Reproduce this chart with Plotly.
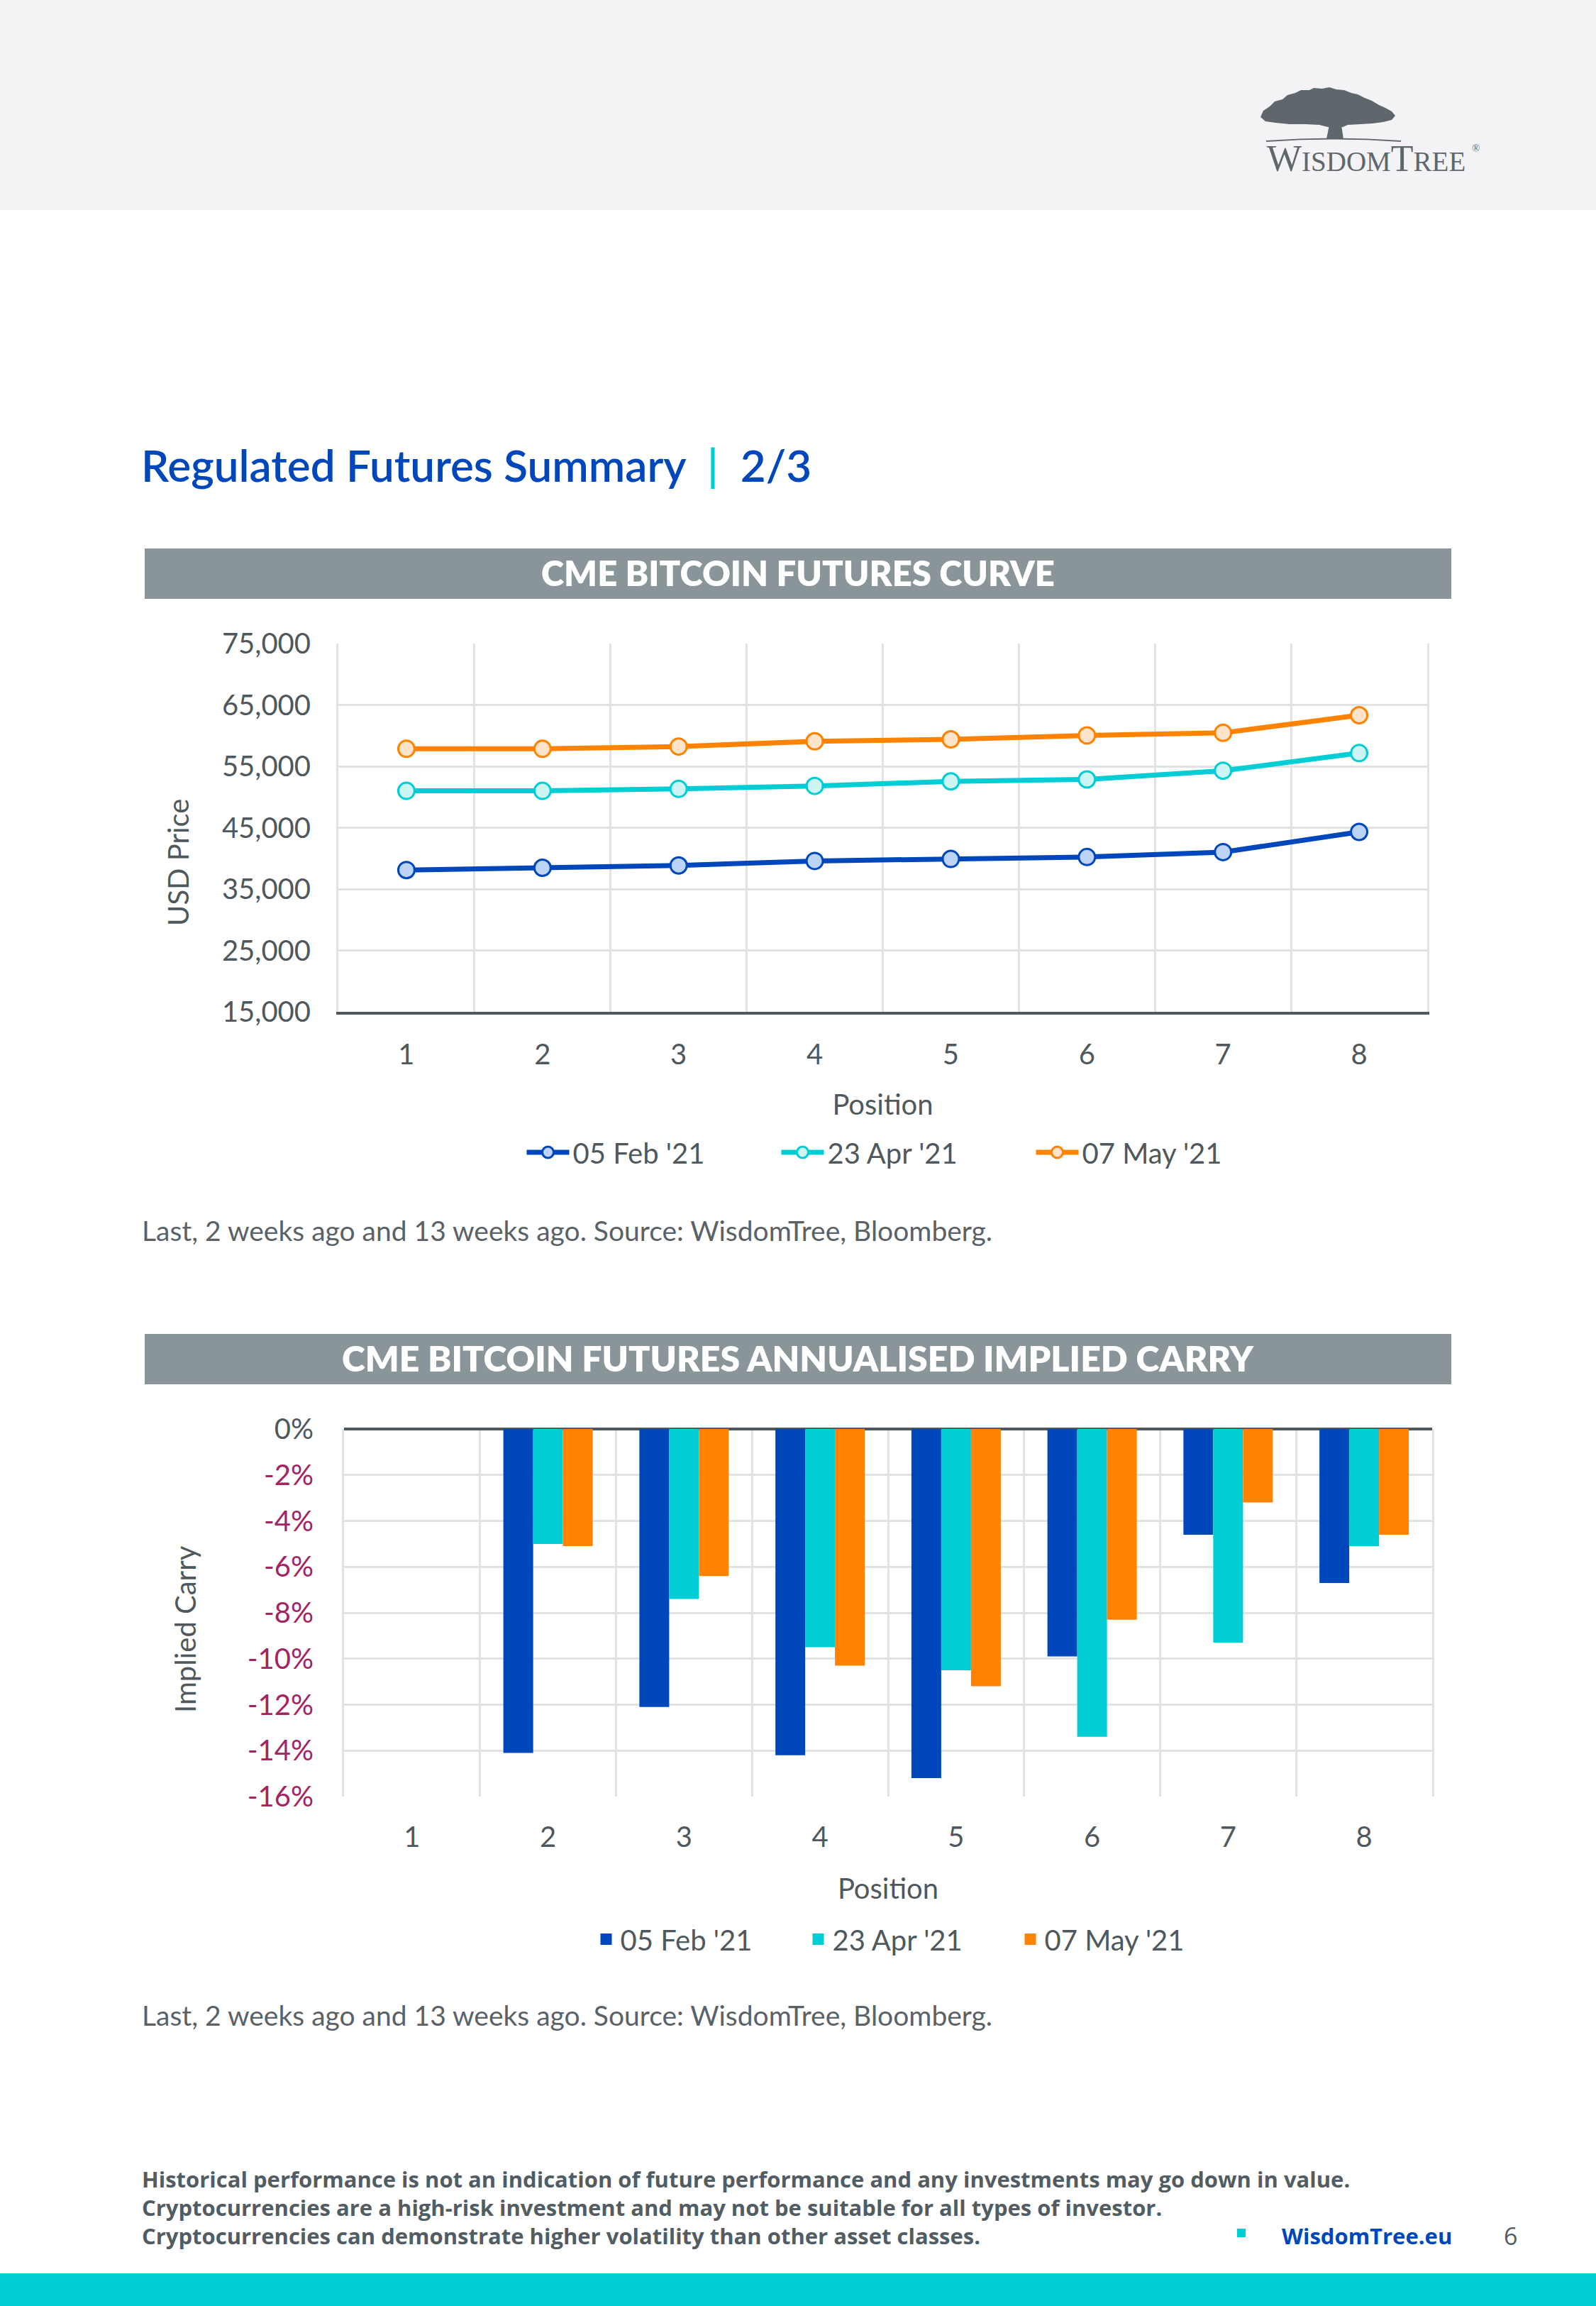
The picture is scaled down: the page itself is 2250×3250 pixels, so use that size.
import plotly.graph_objects as go

W, H = 2250, 3250


def fx(x):
    return x / W


def fy(y):
    return 1 - y / H


# ---------------- data ----------------
positions = [1, 2, 3, 4, 5, 6, 7, 8]
series_names = ["05 Feb '21", "23 Apr '21", "07 May '21"]

curve_feb = [38100, 38470, 38840, 39580, 39900, 40220, 41020, 44310]
curve_apr = [51000, 51000, 51320, 51800, 52540, 52860, 54290, 57160]
curve_may = [57850, 57850, 58220, 59070, 59390, 60030, 60450, 63320]

carry_feb = [None, -14.1, -12.1, -14.2, -15.2, -9.9, -4.6, -6.7]
carry_apr = [None, -5.0, -7.4, -9.5, -10.5, -13.4, -9.3, -5.1]
carry_may = [None, -5.1, -6.4, -10.3, -11.2, -8.3, -3.2, -4.6]

curve_ticks = [15000, 25000, 35000, 45000, 55000, 65000, 75000]
carry_ticks = [0, -2, -4, -6, -8, -10, -12, -14, -16]

# ---------------- style ----------------
BLUE = "#0047bb"
CYAN = "#00cdd4"
ORANGE = "#ff8200"
colors = [BLUE, CYAN, ORANGE]
fills = ["#bcd4f7", "#ccf5f3", "#ffe4cc"]
TXT = "#4f585c"
GRID = "#e0e3e4"
BAND = "#8a959a"
MAGENTA = "#a4245f"
FONT = "Lato"
FS = 40

boundaries = [p - 0.5 for p in positions] + [positions[-1] + 0.5]

fig = go.Figure()

for name, vals, c, f in zip(series_names, [curve_feb, curve_apr, curve_may], colors, fills):
    fig.add_trace(go.Scatter(
        x=positions, y=vals, name=name, mode="lines+markers",
        line=dict(color=c, width=7),
        marker=dict(size=23, color=f, line=dict(color=c, width=3)),
        xaxis="x", yaxis="y", legend="legend",
    ))

for name, vals, c in zip(series_names, [carry_feb, carry_apr, carry_may], colors):
    fig.add_trace(go.Bar(
        x=positions, y=vals, name=name, marker=dict(color=c, line=dict(width=0)),
        xaxis="x2", yaxis="y2", showlegend=False,
    ))
    # legend entry with a larger square swatch
    fig.add_trace(go.Scatter(
        x=[None], y=[None], name=name, mode="markers",
        marker=dict(symbol="square", size=20, color=c, line=dict(width=0)),
        xaxis="x2", yaxis="y2", legend="legend2",
    ))

axis_font = dict(family=FONT, size=FS, color=TXT)


def x_axis(domain, anchor, label_standoff, **extra):
    return dict(
        domain=domain, anchor=anchor,
        range=[0.5, 8.5], tickmode="array", tickvals=positions, ticks="",
        showgrid=False, zeroline=False, tickfont=axis_font,
        minor=dict(tickvals=boundaries, showgrid=True, gridcolor=GRID, gridwidth=3, ticks=""),
        ticklabelstandoff=label_standoff, automargin=False, fixedrange=True,
        title=dict(text="Position", font=dict(family=FONT, size=FS, color=TXT), standoff=36),
        **extra,
    )


fig.update_layout(
    width=W, height=H,
    margin=dict(l=0, r=0, t=0, b=0),
    paper_bgcolor="white", plot_bgcolor="white",
    barmode="group", bargap=0.343, bargroupgap=0,
    hovermode=False,
    xaxis=x_axis([fx(477), fx(2012)], "y", 22, showline=True, linecolor=TXT, linewidth=4),
    yaxis=dict(domain=[fy(1426), fy(907)], anchor="x", range=[15000, 75000],
               tickmode="array", tickvals=curve_ticks, tickformat=",d",
               ticks="", showgrid=True, gridcolor=GRID, gridwidth=3,
               showline=True, linecolor=GRID, linewidth=3, mirror=True,
               zeroline=False, tickfont=axis_font, ticklabelstandoff=28,
               automargin=False, fixedrange=True),
    xaxis2=x_axis([fx(485), fx(2019)], "y2", 30, showline=False),
    yaxis2=dict(domain=[fy(2532), fy(2014)], anchor="x2", range=[-16, 0],
                tickmode="array", tickvals=carry_ticks,
                ticktext=[f"<span style='color:{TXT if v == 0 else MAGENTA}'>{v}%</span>" for v in carry_ticks],
                ticks="", showgrid=True, gridcolor=GRID, gridwidth=3,
                showline=True, linecolor=GRID, linewidth=3, mirror=True,
                zeroline=True, zerolinecolor=TXT, zerolinewidth=4,
                tickfont=axis_font, ticklabelstandoff=32,
                automargin=False, fixedrange=True),
    legend=dict(orientation="h", x=fx(1276), y=fy(1624), xanchor="center", yanchor="middle",
                font=dict(family=FONT, size=FS, color=TXT), itemwidth=60,
                entrywidth=284, bgcolor="rgba(0,0,0,0)"),
    legend2=dict(orientation="h", x=fx(1283), y=fy(2733), xanchor="center", yanchor="middle",
                 font=dict(family=FONT, size=FS, color=TXT), itemwidth=30,
                 entrywidth=254, bgcolor="rgba(0,0,0,0)"),
)

shapes = [
    # header background
    dict(type="rect", xref="paper", yref="paper", x0=0, x1=1, y0=fy(296), y1=fy(0),
         fillcolor="#f3f3f5", line=dict(width=0), layer="below"),
    # chart title bands
    dict(type="rect", xref="paper", yref="paper", x0=fx(204), x1=fx(2046), y0=fy(844), y1=fy(773),
         fillcolor=BAND, line=dict(width=0), layer="below"),
    dict(type="rect", xref="paper", yref="paper", x0=fx(204), x1=fx(2046), y0=fy(1951), y1=fy(1880),
         fillcolor=BAND, line=dict(width=0), layer="below"),
    # bottom band
    dict(type="rect", xref="paper", yref="paper", x0=0, x1=1, y0=fy(3250), y1=fy(3204),
         fillcolor=CYAN, line=dict(width=0), layer="below"),
    # small square in footer
    dict(type="rect", xref="paper", yref="paper", x0=fx(1744), x1=fx(1756), y0=fy(3153), y1=fy(3141),
         fillcolor=CYAN, line=dict(width=0)),
]

# logo tree (canopy, trunk, ground)
LOGO = "#5f676c"
canopy_pts = [(1777, 165), (1781, 156), (1790, 150), (1797, 143), (1808, 140), (1815, 134), (1826, 131),
              (1834, 127), (1846, 127), (1852, 124), (1864, 125), (1874, 123), (1884, 126), (1895, 127),
              (1905, 131), (1914, 133), (1924, 138), (1934, 142), (1944, 148), (1953, 152), (1962, 157),
              (1967, 163), (1962, 169), (1950, 172), (1935, 174), (1918, 175), (1900, 176), (1893, 179),
              (1872, 179), (1860, 176), (1840, 175), (1818, 175), (1798, 173), (1784, 171)]
path = "M " + " L ".join(f"{fx(x)},{fy(y)}" for x, y in canopy_pts) + " Z"
shapes.append(dict(type="path", xref="paper", yref="paper", path=path, fillcolor=LOGO, line=dict(width=0)))
trunk = [(1874, 176), (1891, 176), (1894, 196), (1870, 196)]
shapes.append(dict(type="path", xref="paper", yref="paper",
                   path="M " + " L ".join(f"{fx(x)},{fy(y)}" for x, y in trunk) + " Z",
                   fillcolor=LOGO, line=dict(width=0)))
shapes.append(dict(type="path", xref="paper", yref="paper",
                   path=f"M {fx(1785)},{fy(199)} Q {fx(1880)},{fy(192)} {fx(1975)},{fy(199)}",
                   line=dict(color=LOGO, width=2)))
fig.update_layout(shapes=shapes)

ann = []


def add_text(text, x, y, size, color=TXT, xanchor="left", yanchor="middle", family=FONT, weight="normal", angle=0):
    ann.append(dict(text=text, x=fx(x), y=fy(y), xref="paper", yref="paper", showarrow=False,
                    xanchor=xanchor, yanchor=yanchor, textangle=angle,
                    font=dict(family=family, size=size, color=color, weight=weight)))


add_text(f"Regulated Futures Summary  <span style='color:{CYAN}'>|</span>  2/3", 197, 655, 62,
         color=BLUE, weight=600)
add_text("CME BITCOIN FUTURES CURVE", 1125, 807, 49, color="white", xanchor="center", weight=800)
add_text("CME BITCOIN FUTURES ANNUALISED IMPLIED CARRY", 1125, 1914, 50, color="white",
         xanchor="center", weight=800)
add_text("USD Price", 251, 1216, FS, xanchor="center", angle=-90)
add_text("Implied Carry", 261, 2296, FS, xanchor="center", angle=-90)
src = "Last, 2 weeks ago and 13 weeks ago. Source: WisdomTree, Bloomberg."
add_text(src, 198, 1734, 39, color="#5a6268")
add_text(src, 198, 2840, 39, color="#5a6268")
add_text("Historical performance is not an indication of future performance and any investments may go down in value.",
         198, 3071, 31, color="#525c63", family="Open Sans", weight="bold")
add_text("Cryptocurrencies are a high-risk investment and may not be suitable for all types of investor.",
         198, 3111, 31, color="#525c63", family="Open Sans", weight="bold")
add_text("Cryptocurrencies can demonstrate higher volatility than other asset classes.",
         198, 3151, 31, color="#525c63", family="Open Sans", weight="bold")
add_text("WisdomTree.eu", 1805, 3151, 31, color=BLUE, family="Open Sans", weight="bold")
add_text("6", 2129, 3151, 34, color="#525c63", xanchor="center", family="Open Sans")
add_text("<span style='font-size:52px'>W</span>ISDOM<span style='font-size:52px'>T</span>REE",
         1784, 223, 39, color=LOGO, family="Liberation Serif")
add_text("®", 2073, 209, 15, color=LOGO, family="Liberation Serif")
fig.update_layout(annotations=ann)

fig.write_html("out.html", config={"displayModeBar": False},
               post_script="document.body.style.margin='0px';")
